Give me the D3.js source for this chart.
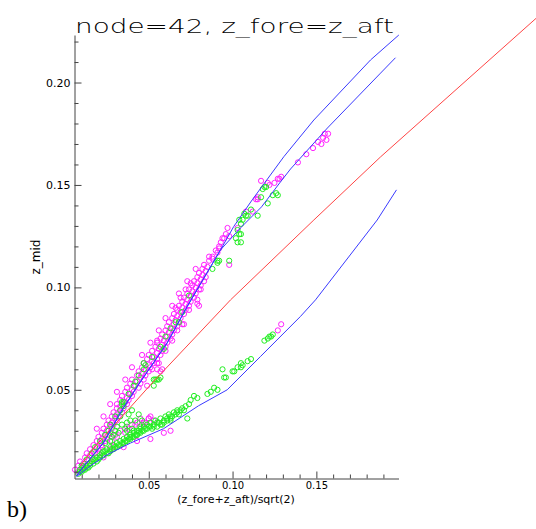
<!DOCTYPE html>
<html>
<head>
<meta charset="utf-8">
<script src="https://cdn.jsdelivr.net/npm/d3@7"></script>
<style>
  body { margin: 0; background: #fff; }
  .tick text { font-family: "DejaVu Sans", sans-serif; font-size: 11px; fill: #000; }
  .xax .tick text { font-size: 10px; }
  .tick line, .domain { stroke: #444; }
</style>
</head>
<body>
<div id="chart"></div>
<script>
// values in thousandths: [x*1000, y*1000]
const blueUpper = [[6.9,8],[11.2,12.6],[23,24.1],[33.1,38.8],[43.1,51.6],[61,72.9],[72.9,90.6],[92.8,118.3],[100.7,129.7],[111.7,142.7],[130.6,163.8],[148.5,181.7],[182.3,211],[199.2,223.2]];
const blueUpper2 = [[6.9,8],[11.2,12.6],[23,24.1],[33.1,38.8],[43.1,51.6],[61,72.9],[72.9,90.6],[92.8,118.3],[104.7,129],[117.3,139.3],[128.6,151.5],[134.6,157.8],[156.6,177.8],[188.3,204.6],[197.2,212.1]];
const blueLower = [[6.9,7.6],[15.2,12.9],[25.2,18.3],[39.1,24],[58.8,31],[79.7,42.2],[96.8,50],[116.6,66.2],[140.5,85.8],[149.5,93.9],[186.3,132.9],[197.8,147.6]];
const redLine = [[9.2,12.9],[17.2,21.6],[52,53.3],[98.8,93.9],[148.5,132.9],[188.3,163.7],[281.3,231.5]];

const magentaPts = [
  [8,10],[6,11],[11,14],[9,15],[12,13],[15,18],[13,19],[16,17],[19,22],[17,23],[20,21],
  [22,26],[20,27],[24,25],[25,30],[23,31],[27,29],[28,34],[26,35],[29,33],[31,38],[29,39],[32,37],
  [33,42],[31,43],[35,41],[37,46],[34,47],[38,45],[40,50],[37,51],[41,49],[43,54],[40,55],[45,53],
  [46,58],[44,59],[48,57],[50,62],[47,63],[51,61],[53,66],[50,67],[55,65],[56,70],[54,71],[58,69],
  [59,74],[57,75],[61,73],[55,74],[62,78],[60,79],[64,77],[65,82],[62,83],[67,81],[67,86],[65,87],[69,85],
  [70,90],[68,91],[72,89],[66,90],[73,94],[71,95],[75,93],[69,95],[76,98],[74,99],[78,97],[72,99],
  [79,102],[77,103],[81,101],[75,102],[82,106],[80,107],[84,105],[85,110],[83,111],[88,114],[86,115],
  [90,118],[93,122],[96,126],
  [10,12],[8,13],[14,16],[12,17],[17,20],[15,21],[18,19],[21,24],[19,25],[22,23],[24,28],[22,29],[26,28],
  [27,32],[25,33],[28,31],[30,36],[28,37],[31,35],[33,40],[31,41],[34,39],[36,44],[33,45],[37,43],
  [39,48],[36,49],[40,47],[42,52],[39,53],[44,51],[45,56],[43,57],[47,55],[48,60],[46,61],[50,59],
  [52,64],[49,65],[53,63],[55,68],[52,69],[57,67],[58,72],[55,73],[60,71],[61,76],[58,77],[63,75],
  [64,80],[61,81],[65,79],[66,84],[64,85],[68,83],[69,88],[67,89],[71,87],[72,92],[70,93],[74,91],
  [75,96],[73,97],[77,95],[78,100],[76,101],[80,99],[81,104],[79,105],[83,103],[84,108],[82,109],
  [19,31],[23,37],[27,43],[31,49],[36,55],[40,61],[46,67],[51,73],[56,79],[60,85],[64,91],[68,97],[73,103],[78,109],
  [52,60],[67,79],[74,89],[81,99],[60,69],
  [80,91],[79,94],[70,82],[56,63],[58,60],[49,52],[43,34],[50,36],[47,34],[51,37],[57,59],[55,63],
  [79,92],[71,82],[64,74],[55,60],[129,82],[127,79],
  [92,120],[95,124],[97,129],[115,143],[121,151],[127,153],[139,161],[144,165],[148,168],[151,171],
  [153,170],[155,175],[156,172],[154,173],[157,175],[128,153],[125,151],[122,150],[115,144],[98,125],
  [92,119],[91,117],[86,113],[98,111],[88,115],[117,152],[114,143],[112,137],[108,137],[94,124],[103,129],[129,154],
  [37,32],[42,33],[50,36],[45,36],[27,21],[29,22],[23,17],[15,14],[35,22],[43,25],[51,26],[59,29],[63,30],
  [25,26],[30,28],[33,30],[38,31],[40,33],[28,25],[46,33],[48,34],[53,35],[36,29],[31,27],[20,19],[22,22]
];

const greenPts = [
  [8,9],[9,11],[10,10],[11,12],[12,11],[13,13],[14,12],[15,14],[16,15],[17,14],[18,16],[19,17],[20,16],
  [21,18],[22,19],[23,18],[24,20],[25,21],[26,19],[27,22],[28,21],[29,23],[30,22],[31,24],[32,23],[33,25],
  [34,24],[35,26],[36,25],[37,27],[38,26],[39,28],[40,27],[41,29],[42,28],[43,30],[44,29],[45,31],[46,30],
  [47,32],[48,31],[49,33],[50,32],[51,34],[52,31],[53,33],[54,35],[55,32],[56,34],[57,36],[58,33],[59,35],
  [60,37],[61,35],[62,38],[64,37],[65,39],[67,40],[68,38],[70,41],
  [9,10],[11,11],[13,12],[15,13],[17,16],[19,15],[21,17],[23,20],[25,19],[27,20],[29,21],[31,22],[33,23],
  [35,24],[37,25],[39,27],[41,27],[43,28],[45,29],[47,30],[49,31],[51,32],[53,32],[55,34],[57,33],[59,34],
  [61,36],[63,36],[66,38],[69,40],[72,42],[74,43],
  [77,47],[89,51],[91,50],[95,56],[101,59],[103,61],[105,61],[109,64],[111,65],[121,75],[123,76],[124,77],
  [79,46],[87,49],[75,45],[71,40],[67,39],[63,37],[73,36],[63,35],[85,48],[106,62],[119,74],[122,76],
  [94,60],[100,59],[105,63],[96,56],
  [35,42],[39,35],[37,30],[41,30],[43,28],[34,44],[55,55],[54,55],[57,56],[56,55],[53,52],
  [26,30],[31,32],[37,34],[33,37],[29,28],[39,26],[45,32],[44,30],
  [24,24],[28,27],[32,29],[36,31],[40,31],[42,35],[46,35],[34,33],[30,30],[27,25],[38,38],[40,40],[44,38],
  [10,13],[13,16],[16,19],[18,22],[21,25],[24,28],[27,33],[30,37],[33,40],[35,44],[38,48],[41,52],
  [44,57],[48,62],[52,66],[60,76],[63,80],[70,88],[74,96],
  [34,43],[47,63],[42,54],[59,70],[57,71],[68,83],[66,83],[92,113],[91,112],[47,60],[53,55],
  [107,136],[109,135],[115,135],[121,141],[127,145],[126,146],[118,148],[117,144],[105,126],[105,131],
  [103,128],[104,133],[120,149],[124,145],[105,122],[103,122],[98,113],[91,113],[88,109],
  [106,133],[108,135],[111,138],[104,126],[102,124],[119,149]
];

const xMajor = [0.05, 0.10, 0.15];
const xMinor = [0.01,0.02,0.03,0.04,0.06,0.07,0.08,0.09,0.11,0.12,0.13,0.14,0.16,0.17,0.18,0.19];
const yMajor = [0.05, 0.10, 0.15, 0.20];
const yMinor = [0.01,0.02,0.03,0.04,0.06,0.07,0.08,0.09,0.11,0.12,0.13,0.14,0.16,0.17,0.18,0.19,0.21,0.22];

const W = 536, H = 529;
const svg = d3.select("#chart").append("svg")
  .attr("width", W)
  .attr("height", H);

const x = d3.scaleLinear().domain([0.0057, 0.199]).range([74.5, 398.5]);
const y = d3.scaleLinear().domain([0.0067, 0.2232]).range([478.5, 35]);

// scatter
function drawPts(pts, color) {
  svg.append("g")
    .selectAll("circle")
    .data(pts)
    .enter().append("circle")
    .attr("cx", d => x(d[0] / 1000))
    .attr("cy", d => y(d[1] / 1000))
    .attr("r", 2.6)
    .attr("fill", "none")
    .attr("stroke", color)
    .attr("stroke-width", 1);
}
drawPts(magentaPts, "#ff22ff");
drawPts(greenPts, "#22ee22");

// lines
const line = d3.line()
  .x(d => x(d[0] / 1000))
  .y(d => y(d[1] / 1000));

function drawLine(data, color) {
  svg.append("path")
    .datum(data)
    .attr("d", line)
    .attr("fill", "none")
    .attr("stroke", color)
    .attr("stroke-width", 1);
}
drawLine(redLine, "#ff4444");
drawLine(blueLower, "#3a3aff");
drawLine(blueUpper2, "#3a3aff");
drawLine(blueUpper, "#3a3aff");

// axes
svg.append("g")
  .attr("transform", "translate(0,478.5)")
  .call(d3.axisBottom(x).tickValues(xMinor).tickSize(-4).tickFormat(""))
  .call(g => g.select(".domain").remove());
svg.append("g")
  .attr("class", "xax")
  .attr("transform", "translate(0,478.5)")
  .call(d3.axisBottom(x).tickValues(xMajor).tickSizeInner(-7).tickSizeOuter(0).tickPadding(3).tickFormat(d3.format(".2f")));

svg.append("g")
  .attr("transform", "translate(74.5,0)")
  .call(d3.axisLeft(y).tickValues(yMinor).tickSize(-4).tickFormat(""))
  .call(g => g.select(".domain").remove());
svg.append("g")
  .attr("transform", "translate(74.5,0)")
  .call(d3.axisLeft(y).tickValues(yMajor).tickSizeInner(-7).tickSizeOuter(0).tickPadding(4).tickFormat(d3.format(".2f")));

// texts
svg.append("text")
  .attr("x", 75)
  .attr("y", 33)
  .attr("textLength", 319)
  .attr("lengthAdjust", "spacingAndGlyphs")
  .style("font-family", "DejaVu Sans, sans-serif")
  .style("font-size", "20px")
  .style("font-weight", 200)
  .text("node=42, z_fore=z_aft");

svg.append("text")
  .attr("x", 236)
  .attr("y", 503)
  .attr("text-anchor", "middle")
  .style("font-family", "DejaVu Sans, sans-serif")
  .style("font-size", "11px")
  .text("(z_fore+z_aft)/sqrt(2)");

svg.append("text")
  .attr("transform", "translate(40,257) rotate(-90)")
  .attr("text-anchor", "middle")
  .style("font-family", "DejaVu Sans, sans-serif")
  .style("font-size", "12px")
  .text("z_mid");

svg.append("text")
  .attr("x", 7)
  .attr("y", 517)
  .style("font-family", "Liberation Serif, serif")
  .style("font-size", "24px")
  .text("b)");
</script>
</body>
</html>
